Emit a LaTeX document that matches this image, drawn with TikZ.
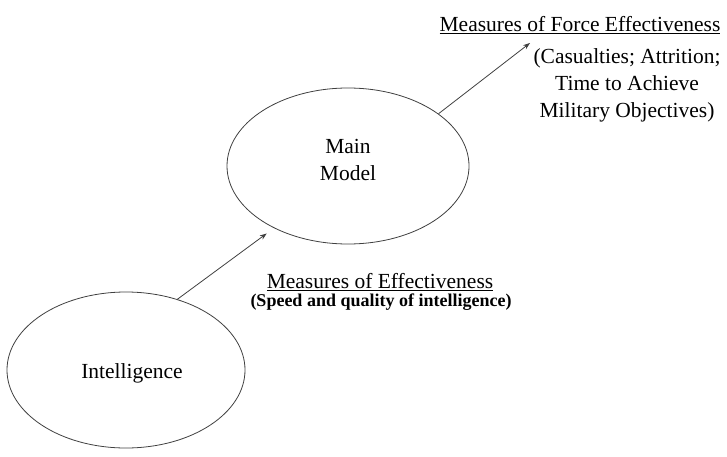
\documentclass[tikz,border=0pt]{standalone}
\usepackage{fontspec}
\setmainfont{Liberation Serif}
\usetikzlibrary{shapes.geometric, arrows.meta}

\begin{document}
\begin{tikzpicture}[x=1pt, y=1pt, >={Stealth[length=7pt, width=5pt]},
    every node/.style={font=\fontsize{21.5}{27}\selectfont},
    blob/.style={ellipse, draw=black!75, line width=0.8pt, minimum width=242pt, minimum height=156pt, inner sep=0pt},
    link/.style={->, draw=black!75, line width=0.8pt}]
    \useasboundingbox (0,0) rectangle (727,456);

    \node[blob, label={[align=center, yshift=6pt]center:{Main\\Model}}] (main) at (348,290) {};
    \node[blob, minimum width=238pt, label={[xshift=6pt, yshift=-3pt]center:Intelligence}] (intel) at (126,86) {};

    \node (forcehead) at (580,431) {\underline{Measures of Force Effectiveness}};
    \node[align=center] (forcelist) at (627,371) {(Casualties; Attrition;\\Time to Achieve\\Military Objectives)};
    \node (moehead) at (380,174) {\underline{Measures of Effectiveness}};
    \node[font=\fontsize{18}{22}\selectfont\bfseries] (moelist) at (381,154) {(Speed and quality of intelligence)};

    \coordinate (forcetip) at (530,413);

    \draw[link, shorten >=9pt] (intel.54) -- (main.220);
    \draw[link] (main.30) -- (forcetip);
\end{tikzpicture}
\end{document}
